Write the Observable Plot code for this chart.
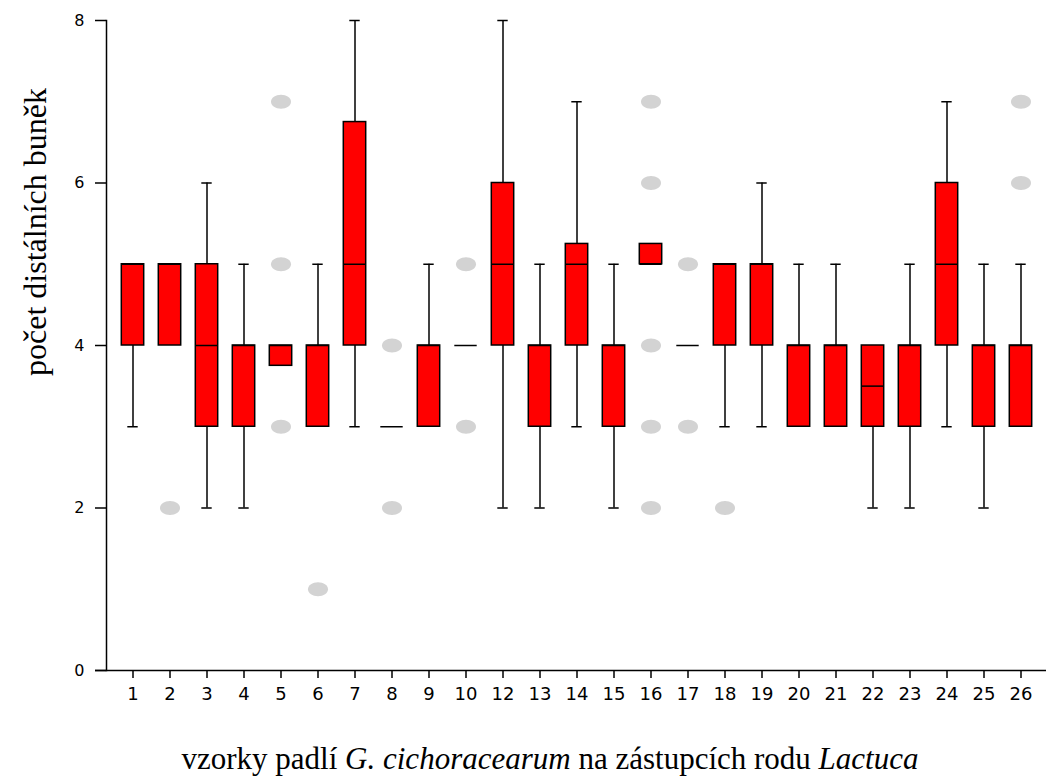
<!DOCTYPE html>
<html>
<head>
<meta charset="utf-8">
<script src="https://cdn.jsdelivr.net/npm/d3@7"></script>
<script src="https://cdn.jsdelivr.net/npm/@observablehq/plot@0.6"></script>
<style>
  body { margin: 0; background: #fff; }
  #wrap { position: relative; width: 1046px; height: 778px; }
  .lbl { position: absolute; white-space: nowrap; font-family: "Liberation Serif", "Times New Roman", serif; color: #000; line-height: 1; }
  #caption { left: 550px; top: 758px; font-size: 31px; transform: translate(-50%, -50%); }
  #ylabel { left: 35px; top: 232px; font-size: 32px; transform: translate(-50%, -50%) rotate(-90deg); }
</style>
</head>
<body>
<div id="wrap">
  <div id="chart"></div>
  <div id="ylabel" class="lbl">počet distálních buněk</div>
  <div id="caption" class="lbl">vzorky padlí <i>G. cichoracearum</i> na zástupcích rodu <i>Lactuca</i></div>
</div>
<script>
const categories = ["1","2","3","4","5","6","7","8","9","10","12","13","14","15","16","17","18","19","20","21","22","23","24","25","26"];
const q1        = [4, 4, 3, 3, 3.75, 3, 4,    3, 3, 4, 4, 3, 4,    3, 5,    4, 4, 4, 3, 3, 3,   3, 4, 3, 3];
const q3        = [5, 5, 5, 4, 4,    4, 6.75, 3, 4, 4, 6, 4, 5.25, 4, 5.25, 4, 5, 5, 4, 4, 4,   4, 6, 4, 4];
const medians   = [5, 5, 4, 4, 4,    4, 5,    3, 4, 4, 5, 4, 5,    4, 5,    4, 5, 5, 4, 4, 3.5, 4, 5, 4, 4];
const whiskerLo = [3, null, 2, 2, null, null, 3, null, null, null, 2, 2, 3, 2, null, null, 3, 3, null, null, 2, 2, 3, 2, null];
const whiskerHi = [null, null, 6, 5, null, 5, 8, null, 5, null, 8, 5, 7, 5, null, null, null, 6, 5, 5, null, 5, 7, 5, 5];
const outlierCat = ["2","5","5","5","6","8","8","10","10","16","16","16","16","16","17","17","18","26","26"];
const outlierVal = [2, 7, 5, 3, 1, 4, 2, 5, 3, 7, 6, 4, 3, 2, 5, 3, 2, 7, 6];
const yTicks = [0, 2, 4, 6, 8];

const boxes = categories.map((c, i) => ({cat: c, q1: q1[i], q3: q3[i], med: medians[i], lo: whiskerLo[i], hi: whiskerHi[i]}));
const outliers = outlierCat.map((c, i) => ({cat: c, v: outlierVal[i]}));
const lowW = boxes.filter(d => d.lo != null);
const highW = boxes.filter(d => d.hi != null);

const ellipse = {
  draw(ctx, size) {
    const r = Math.sqrt(size / Math.PI);
    const rx = r * 1.43, ry = r, k = 0.5523;
    ctx.moveTo(rx, 0);
    ctx.bezierCurveTo(rx, k * ry, k * rx, ry, 0, ry);
    ctx.bezierCurveTo(-k * rx, ry, -rx, k * ry, -rx, 0);
    ctx.bezierCurveTo(-rx, -k * ry, -k * rx, -ry, 0, -ry);
    ctx.bezierCurveTo(k * rx, -ry, rx, -k * ry, rx, 0);
    ctx.closePath();
  }
};

const boxInset = 7.3, capInset = 13.3, sw = 1.5;

const chart = Plot.plot({
  width: 1046,
  height: 705,
  marginLeft: 106,
  marginRight: 0,
  marginTop: 20,
  marginBottom: 35,
  style: {background: "#fff", color: "#000"},
  x: {type: "band", domain: categories, padding: 0, label: null},
  y: {domain: [0, 8], label: null},
  marks: [
    Plot.ruleY([0], {insetLeft: -11, stroke: "#000", strokeWidth: sw}),
    Plot.frame({anchor: "left", stroke: "#000", strokeWidth: sw}),
    Plot.axisY({ticks: yTicks, tickSize: 11, tickPadding: 11, fontSize: 16, fontFamily: "DejaVu Sans", strokeWidth: sw, label: null}),
    Plot.axisX({tickSize: 8, tickPadding: 9, fontSize: 18, fontFamily: "DejaVu Sans", strokeWidth: sw, label: null}),
    Plot.ruleX(lowW, {x: "cat", y1: "lo", y2: "q1", stroke: "#000", strokeWidth: sw}),
    Plot.ruleX(highW, {x: "cat", y1: "q3", y2: "hi", stroke: "#000", strokeWidth: sw}),
    Plot.tickY(lowW, {x: "cat", y: "lo", insetLeft: capInset, insetRight: capInset, stroke: "#000", strokeWidth: sw}),
    Plot.tickY(highW, {x: "cat", y: "hi", insetLeft: capInset, insetRight: capInset, stroke: "#000", strokeWidth: sw}),
    Plot.rectY(boxes, {x: "cat", y1: "q1", y2: "q3", insetLeft: boxInset, insetRight: boxInset, fill: "#ff0000", stroke: "#000", strokeWidth: sw}),
    Plot.tickY(boxes, {x: "cat", y: "med", insetLeft: boxInset, insetRight: boxInset, stroke: "#000", strokeWidth: sw}),
    Plot.dot(outliers, {x: "cat", y: "v", r: 7, symbol: ellipse, fill: "#d3d3d3", stroke: "none"})
  ]
});
document.getElementById("chart").appendChild(chart);
</script>
</body>
</html>
